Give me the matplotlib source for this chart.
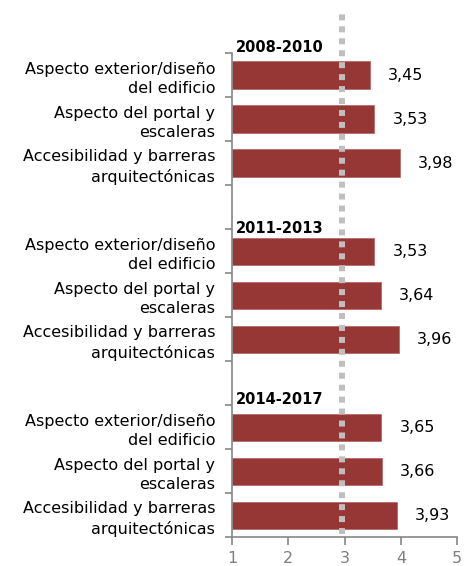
import numpy as np
import matplotlib
matplotlib.use('Agg')
from matplotlib import pyplot as plt
from matplotlib.transforms import blended_transform_factory

# Datos: valoracion media por periodo
periodos = ['2008-2010', '2011-2013', '2014-2017']
aspectos = ['Aspecto exterior/diseño\ndel edificio',
            'Aspecto del portal y\nescaleras',
            'Accesibilidad y barreras\narquitectónicas']
valores_2008 = [3.45, 3.53, 3.98]
valores_2011 = [3.53, 3.64, 3.96]
valores_2014 = [3.65, 3.66, 3.93]
referencia = 2.96  # linea punteada
ticks_x = [1, 2, 3, 4, 5]

valores = [valores_2008, valores_2011, valores_2014]

rojo = '#963735'
gris = '#868686'

fig = plt.figure(figsize=(4.76, 5.66), dpi=100)
ax = fig.add_axes([0.4874, 0.0504, 0.4733, 0.856])

# cada periodo ocupa 3 filas + 1 fila vacia
posiciones = []
etiquetas = []
for g, vals in enumerate(valores):
    for i, v in enumerate(vals):
        y = g * 4 + i
        posiciones.append(y)
        etiquetas.append(aspectos[i])
        ax.barh(y, v - 1, left=1, height=0.62, color=rojo,
                edgecolor='#b86a68', linewidth=0.6, zorder=2)
        ax.annotate(f'{v:.2f}'.replace('.', ','), (v, y),
                    xytext=(13, 0), textcoords='offset points',
                    va='center', ha='left', fontsize=11.5, color='black')

# titulos de cada bloque
ajustes = [1, -4, 1]
for g, p in enumerate(periodos):
    ax.annotate(p, (1, g * 4 - 0.5), xytext=(2.5, ajustes[g] * 0.72),
                textcoords='offset points', va='baseline', ha='left',
                fontsize=10.5, fontweight='bold', annotation_clip=False)

# linea de referencia punteada
tr = blended_transform_factory(ax.transData, ax.transAxes)
ax.plot([referencia, referencia], [0.008, 1.087], transform=tr,
        color='#bfbfbf', linewidth=4.3, linestyle=(0, (1, 1)),
        dash_capstyle='butt', clip_on=False, zorder=3)

ax.set_xlim(1, 5)
ax.set_ylim(10.5, -0.5)
ax.set_xticks(ticks_x)
ax.set_xticklabels([str(t) for t in ticks_x])

ax.set_yticks(np.arange(-0.5, 11, 1))
ax.set_yticklabels([])
ax.set_yticks(posiciones, minor=True)
ax.set_yticklabels(etiquetas, minor=True, fontsize=11.5, linespacing=1.35,
                   ha='right')
ax.tick_params(axis='y', which='minor', length=0, pad=12)
ax.tick_params(axis='y', which='major', length=5, width=1.2, color=gris,
               direction='out')
ax.tick_params(axis='x', length=6, width=1.2, color=gris, labelcolor='#7f7f7f',
               labelsize=11.5, pad=3.5)

for s in ['top', 'right']:
    ax.spines[s].set_visible(False)
for s in ['left', 'bottom']:
    ax.spines[s].set_color(gris)
    ax.spines[s].set_linewidth(1.2)

fig.savefig('out.png', dpi=100)
